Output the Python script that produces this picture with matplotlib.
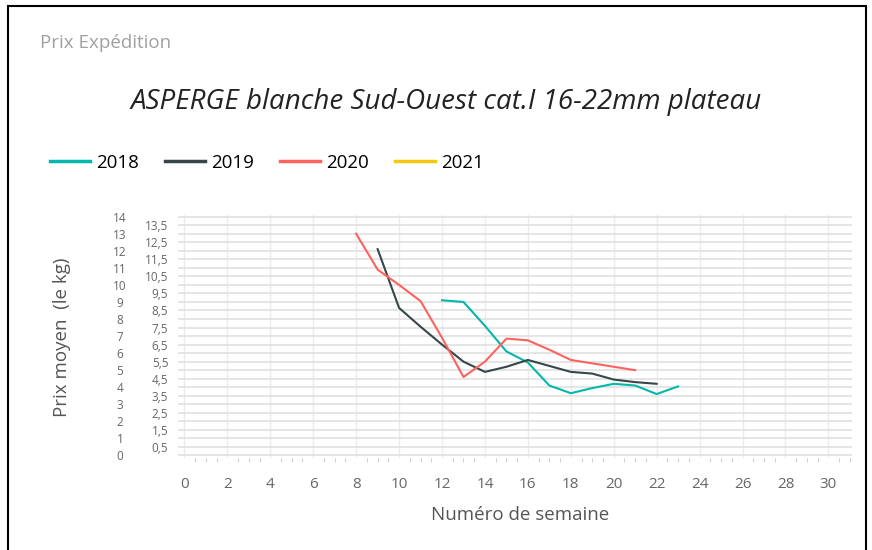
import numpy as np
import matplotlib
matplotlib.use("Agg")
from matplotlib import pyplot as plt
from matplotlib.patches import Rectangle
from matplotlib.ticker import MultipleLocator, FuncFormatter

# data (week, price EUR/kg)
weeks_2018 = [12, 13, 14, 15, 16, 17, 18, 19, 20, 21, 22, 23]
price_2018 = [9.1, 9.0, 7.6, 6.1, 5.45, 4.1, 3.65, 3.95, 4.2, 4.1, 3.6, 4.05]
weeks_2019 = [9, 10, 11, 12, 13, 14, 15, 16, 17, 18, 19, 20, 21, 22]
price_2019 = [12.1, 8.65, 7.55, 6.5, 5.5, 4.9, 5.2, 5.6, 5.25, 4.9, 4.8, 4.45, 4.3, 4.2]
weeks_2020 = [8, 9, 10, 11, 12, 13, 14, 15, 16, 17, 18, 19, 20, 21]
price_2020 = [13.0, 10.9, 10.0, 9.05, 6.9, 4.6, 5.5, 6.85, 6.75, 6.2, 5.6, 5.4, 5.2, 5.0]
weeks_2021 = []
price_2021 = []

years = ["2018", "2019", "2020", "2021"]
colors = ["#01B8AA", "#374649", "#FD625E", "#F2C80F"]

plt.rcParams['font.family'] = ['Open Sans', 'DejaVu Sans']

fig = plt.figure(figsize=(8.72, 5.5), dpi=100)
W, H = 872.0, 550.0

# outer frame
fig.patches.append(Rectangle((8 / W, -0.05), (866 - 8) / W, 1.05 - 6 / H,
                             transform=fig.transFigure, fill=False,
                             edgecolor='black', linewidth=1.5))

fig.text(40 / W, 1 - 43 / H, "Prix Expédition", fontsize=13.5, color='#a0a0a0',
         va='center', ha='left')
fig.text(446 / W, 1 - 102 / H, "ASPERGE blanche Sud-Ouest cat.I 16-22mm plateau",
         fontsize=20, style='italic', color='#222222', va='center', ha='center')

# plot area
left, right, top, bottom = 178, 852, 215, 458
ax = fig.add_axes([left / W, 1 - bottom / H, (right - left) / W, (bottom - top) / H])

series = [(weeks_2018, price_2018), (weeks_2019, price_2019),
          (weeks_2020, price_2020), (weeks_2021, price_2021)]
handles = []
for (wk, pr), yr, c in zip(series, years, colors):
    ln, = ax.plot(wk, pr, color=c, linewidth=1.5, label=yr)
    handles.append(ln)

ax.set_xlim(-0.3, 31.1)
ax.set_ylim(-0.15, 14.1)
for s in ax.spines.values():
    s.set_visible(False)

ax.xaxis.set_major_locator(MultipleLocator(2))
ax.xaxis.set_minor_locator(MultipleLocator(0.5))
ax.tick_params(axis='x', which='major', length=0, pad=14, labelsize=11, labelcolor='#666666')
ax.tick_params(axis='x', which='minor', length=3, color='#d0d0d0', width=0.8)
ax.grid(axis='x', which='major', color='#ececec', linewidth=1)

ax.set_yticks(np.arange(0.5, 14, 1.0))
ax.yaxis.set_major_formatter(FuncFormatter(lambda v, p: ("%.1f" % v).replace('.', ',')))
ax.set_yticks(np.arange(0, 14.5, 1.0), minor=True)
ax.tick_params(axis='y', which='major', length=0, pad=7, labelsize=8.5, labelcolor='#666666')
ax.tick_params(axis='y', which='minor', length=0)
ax.grid(axis='y', which='both', color='#e0e0e0', linewidth=1.2)
ax.set_axisbelow(True)

# outer column of integer labels
sec = ax.secondary_yaxis((120 - left) / (right - left))
sec.set_yticks(np.arange(0, 15, 1))
sec.spines['left'].set_visible(False)
sec.tick_params(axis='y', length=0, pad=0, labelsize=8.5, labelcolor='#666666')
for t in sec.get_yticklabels():
    t.set_ha('center')

fig.text(62 / W, 1 - 337 / H, "Prix moyen  (le kg)", rotation=90, fontsize=13.5,
         color='#555555', ha='center', va='center')
fig.text(520 / W, 1 - 515 / H, "Numéro de semaine", fontsize=13.5,
         color='#555555', ha='center', va='center')

fig.legend(handles=handles, labels=years, loc='center left',
           bbox_to_anchor=(50 / W, 1 - 163 / H), ncol=4, frameon=False,
           fontsize=13.5, handlelength=2.13, handletextpad=0.32, columnspacing=1.4,
           borderaxespad=0, borderpad=0)
for ln in fig.legends[0].get_lines():
    ln.set_linewidth(2.5)

fig.savefig("out.png", dpi=100)
